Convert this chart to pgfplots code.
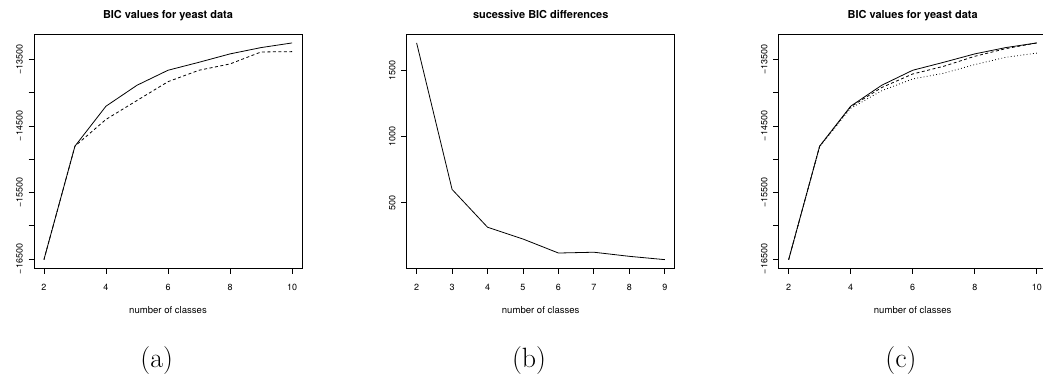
\documentclass[border=0pt]{standalone}
\usepackage{fontspec}
\usepackage{pgfplots}
\pgfplotsset{compat=1.18}
\newfontfamily\hv{TeX Gyre Heros}
\pgfplotsset{rplot/.style={
  scale only axis, width=268bp, height=234bp,
  anchor=south west,
  axis line style={line width=0.8bp},
  every tick/.style={black, line width=0.8bp},
  tick align=outside, major tick length=5.3bp,
  xtick pos=bottom, ytick pos=left,
  scaled ticks=false,
  tick label style={font=\hv\fontsize{9}{10}\selectfont},
  /pgf/number format/assume math mode=true,
  /pgf/number format/1000 sep={},
  yticklabel style={xshift=-6bp, rotate=90, anchor=base, inner sep=0pt},
  xticklabel style={anchor=base, inner sep=0pt, yshift=-16.5bp},
  title style={font=\hv\bfseries\fontsize{11}{13}\selectfont, at={(axis description cs:0.5,1)}, anchor=base, yshift=9.7bp},
  xlabel style={font=\hv\fontsize{9.6}{11}\selectfont, at={(axis description cs:0.5,0)}, anchor=base, yshift=-45bp},
  xlabel={number of classes},
  cycle list={{black, line width=0.8bp, no markers}},
}}
\begin{document}
\begin{tikzpicture}[x=1bp,y=1bp]
% (a)
\begin{axis}[rplot, at={(34bp,109.7bp)},
  title={BIC values for yeast data},
  xmin=1.68, xmax=10.32, ymin=-16640, ymax=-13119,
  xtick={2,4,6,8,10},
  ytick={-16500,-16000,-15500,-15000,-14500,-14000,-13500},
  yticklabels={{−16500},{},{−15500},{},{−14500},{},{−13500}}]
\addplot[black, line width=0.8bp, no markers] coordinates {(2,-16510) (3,-14802) (4,-14201) (5,-13886) (6,-13660) (7,-13540) (8,-13414) (9,-13319) (10,-13249)};
\addplot[black, line width=0.8bp, no markers, dash pattern=on 3bp off 2.5bp] coordinates {(2,-16510) (3,-14802) (4,-14400) (5,-14115) (6,-13832) (7,-13660) (8,-13565) (9,-13385) (10,-13380)};
\end{axis}
% (b)
\begin{axis}[rplot, at={(406.7bp,109.7bp)},
  title={sucessive BIC differences},
  xmin=1.72, xmax=9.28, ymin=4.5, ymax=1773.5,
  xtick={2,3,4,5,6,7,8,9},
  ytick={500,1000,1500}]
\addplot[black, line width=0.8bp, no markers] coordinates {(2,1708) (3,601) (4,315) (5,226) (6,120) (7,126) (8,95) (9,70)};
\end{axis}
% (c)
\begin{axis}[rplot, at={(778.7bp,109.7bp)},
  title={BIC values for yeast data},
  xmin=1.68, xmax=10.32, ymin=-16640, ymax=-13119,
  xtick={2,4,6,8,10},
  ytick={-16500,-16000,-15500,-15000,-14500,-14000,-13500},
  yticklabels={{−16500},{},{−15500},{},{−14500},{},{−13500}}]
\addplot[black, line width=0.8bp, no markers] coordinates {(2,-16510) (3,-14802) (4,-14201) (5,-13886) (6,-13660) (7,-13540) (8,-13414) (9,-13319) (10,-13249)};
\addplot[black, line width=0.8bp, no markers, dash pattern=on 3bp off 2.5bp] coordinates {(2,-16510) (3,-14802) (4,-14210) (5,-13920) (6,-13716) (7,-13600) (8,-13450) (9,-13335) (10,-13249)};
\addplot[black, line width=0.8bp, no markers, dash pattern=on 0.8bp off 2.4bp] coordinates {(2,-16510) (3,-14810) (4,-14233) (5,-13968) (6,-13791) (7,-13705) (8,-13575) (9,-13465) (10,-13402)};
\end{axis}
\node[anchor=base, font=\fontsize{28}{30}\selectfont] at (156.7,10.7) {(a)};
\node[anchor=base, font=\fontsize{28}{30}\selectfont] at (529,10.7) {(b)};
\node[anchor=base, font=\fontsize{28}{30}\selectfont] at (901,10.7) {(c)};
\pgfresetboundingbox
\path (0,0) rectangle (1043,378);
\end{tikzpicture}
\end{document}
